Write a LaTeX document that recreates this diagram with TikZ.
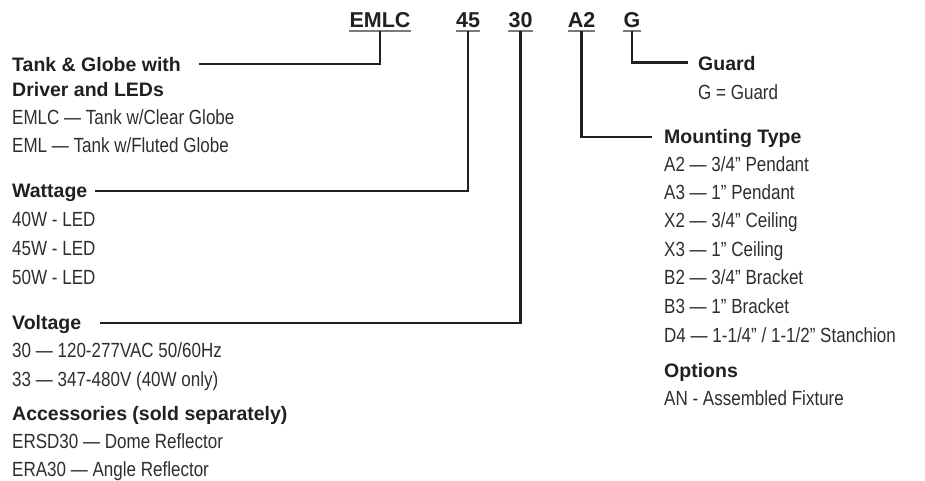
\documentclass[tikz,border=0pt]{standalone}
\usepackage{fontspec}
\setmainfont{Liberation Sans}
\newfontfamily\condfont[FakeStretch=0.83]{Liberation Sans}
\definecolor{ink}{HTML}{231F20}
\definecolor{txt}{HTML}{2E2E2E}
\definecolor{ul}{HTML}{7A7A7A}
\begin{document}
\begin{tikzpicture}[x=1pt,y=-1pt,
  head/.style={anchor=base west, inner sep=0pt, font=\fontsize{19.5}{22}\selectfont\bfseries, text=ink},
  body/.style={anchor=base west, inner sep=0pt, font=\condfont\fontsize{20.5}{23}\selectfont, text=txt},
  code/.style={anchor=base, inner sep=0pt, font=\fontsize{21.5}{24}\selectfont\bfseries, text=ink},
  conn/.style={draw=ink, line width=2.4pt},
  uline/.style={draw=ul, line width=1.8pt}]
\useasboundingbox (0,0) rectangle (925,480);

% code
\node[code] (cEMLC) at (380,27) {EMLC};
\node[code] (c45) at (468,27) {45};
\node[code] (c30) at (520.5,27) {30};
\node[code] (cA2) at (581.5,27) {A2};
\node[code] (cG) at (632,27) {G};
\foreach \n in {cEMLC,c45,c30,cA2,cG}
  \draw[uline] ([yshift=-4pt]\n.base west) -- ([yshift=-4pt]\n.base east);

% left column
\node[head] (tank) at (12,71) {Tank \& Globe with};
\node[head] (driver) at (12,96) {Driver and LEDs};
\node[body] (l1) at (12,124.5) {EMLC — Tank w/Clear Globe};
\node[body] (l2) at (12,152.5) {EML — Tank w/Fluted Globe};
\node[head] (watt) at (12,197) {Wattage};
\node[body] (w1) at (12,226.5) {40W - LED};
\node[body] (w2) at (12,255.5) {45W - LED};
\node[body] (w3) at (12,284.5) {50W - LED};
\node[head] (volt) at (12,329) {Voltage};
\node[body] (v1) at (12,357.5) {30 — 120-277VAC 50/60Hz};
\node[body] (v2) at (12,386.5) {33 — 347-480V (40W only)};
\node[head] (acc) at (12,420) {Accessories (sold separately)};
\node[body] (a1) at (12,448.5) {ERSD30 — Dome Reflector};
\node[body] (a2) at (12,476) {ERA30 — Angle Reflector};

% right column
\node[head] (guard) at (698,70) {Guard};
\node[body] (g1) at (698,99.5) {G = Guard};
\node[head] (mount) at (664,143) {Mounting Type};
\node[body] (m1) at (664,171.5) {A2 — 3/4” Pendant};
\node[body] (m2) at (664,199.5) {A3 — 1” Pendant};
\node[body] (m3) at (664,227.5) {X2 — 3/4” Ceiling};
\node[body] (m4) at (664,256.5) {X3 — 1” Ceiling};
\node[body] (m5) at (664,284.5) {B2 — 3/4” Bracket};
\node[body] (m6) at (664,313.5) {B3 — 1” Bracket};
\node[body] (m7) at (664,342.5) {D4 — 1-1/4” / 1-1/2” Stanchion};
\node[head] (opt) at (664,377) {Options};
\node[body] (o1) at (664,405.5) {AN - Assembled Fixture};

% connector ends
\coordinate (eTank) at (199,64);
\coordinate (eWatt) at (95,191);
\coordinate (eVolt) at (100,323);
\coordinate (eMount) at (652,137);
\coordinate (eGuard) at (688,62.5);

\draw[conn] ([yshift=-4pt]cEMLC.base) |- (eTank);
\draw[conn] ([yshift=-4pt]c45.base) |- (eWatt);
\draw[conn] ([yshift=-4pt]c30.base) |- (eVolt);
\draw[conn] ([yshift=-4pt]cA2.base) |- (eMount);
\draw[conn] ([yshift=-4pt]cG.base) |- (eGuard);
\end{tikzpicture}
\end{document}
